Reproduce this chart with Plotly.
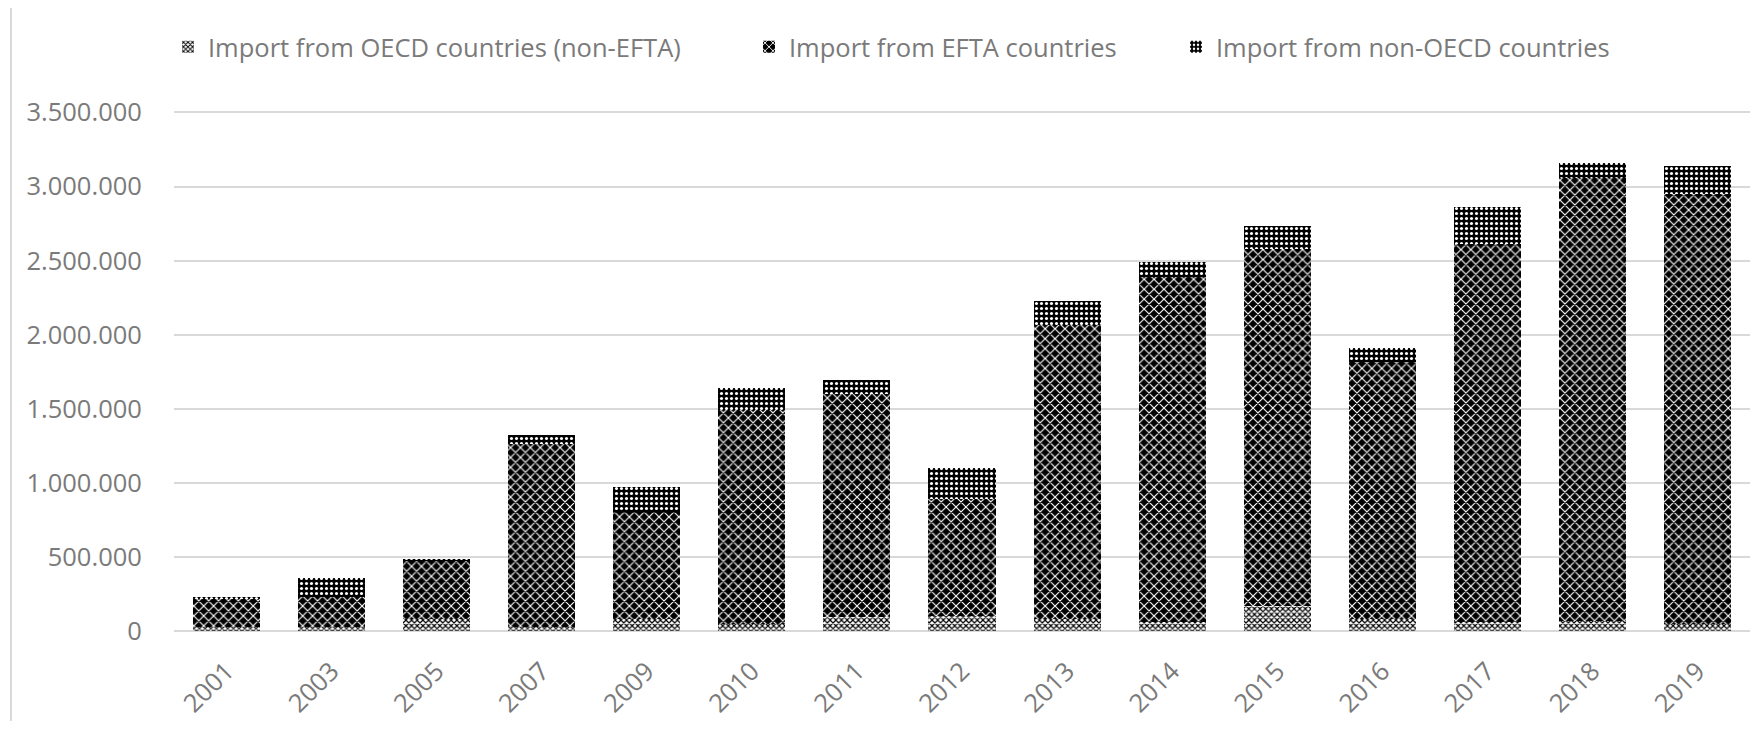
import plotly.graph_objects as go

years = ["2001", "2003", "2005", "2007", "2009", "2010", "2011", "2012",
         "2013", "2014", "2015", "2016", "2017", "2018", "2019"]
oecd_non_efta = [30000, 25000, 80000, 25000, 80000, 47000, 94000, 100000,
                 80000, 58000, 170000, 80000, 58000, 70000, 47000]
efta = [192000, 207000, 393000, 1237000, 723000, 1444000, 1505000, 790000,
        1985000, 2331000, 2409000, 1734000, 2555000, 2990000, 2902000]
non_oecd = [10000, 128000, 16000, 63000, 170000, 152000, 94000, 208000,
            165000, 105000, 155000, 94000, 251000, 101000, 187000]
y_ticks = [0, 500000, 1000000, 1500000, 2000000, 2500000, 3000000, 3500000]

names = ["Import from OECD countries (non-EFTA)",
         "Import from EFTA countries",
         "Import from non-OECD countries"]

# the page body adds an 8px margin, so the figure is sized/placed to compensate
OFF = 8
W, H = 1760 - 2 * OFF, 729 - 2 * OFF
L, R, T, B = 166, 2, 103, 88
pw = W - L - R
ph = H - T - B

TXT = "#7a7a7a"
FONT = "Open Sans"
FS = 25.5

fig = go.Figure()
fig.add_trace(go.Bar(
    x=years, y=oecd_non_efta, name=names[0], legend="legend",
    marker=dict(color="white", line=dict(width=0),
                pattern=dict(shape="x", fgcolor="black", bgcolor="white",
                             size=4, solidity=0.5, fillmode="replace")),
))
fig.add_trace(go.Bar(
    x=years, y=efta, name=names[1], legend="legend2",
    marker=dict(color="black", line=dict(width=0),
                pattern=dict(shape="x", fgcolor="white", bgcolor="black",
                             size=7, solidity=0.3, fillmode="replace")),
))
fig.add_trace(go.Bar(
    x=years, y=non_oecd, name=names[2], legend="legend3",
    marker=dict(color="black", line=dict(width=0),
                pattern=dict(shape=".", fgcolor="white", bgcolor="black",
                             size=5, solidity=0.3, fillmode="replace")),
))

def px_x(px):
    return (px - L) / pw

def px_y(py):
    return (H - B - py) / ph

leg_common = dict(orientation="h", yanchor="middle", xanchor="left",
                  bgcolor="rgba(0,0,0,0)", font=dict(family=FONT, size=FS, color=TXT))

fig.update_layout(
    width=W, height=H,
    margin=dict(l=L, r=R, t=T, b=B, pad=0),
    paper_bgcolor="white", plot_bgcolor="white",
    barmode="stack", bargap=0.362,
    separators=",.",
    showlegend=True,
    font=dict(family=FONT, size=FS, color=TXT),
    legend=dict(x=px_x(160), y=px_y(39), **leg_common),
    legend2=dict(x=px_x(741), y=px_y(39), **leg_common),
    legend3=dict(x=px_x(1168), y=px_y(39), **leg_common),
    xaxis=dict(type="category", tickangle=-45, showgrid=False, zeroline=False,
               showline=False, ticks="outside", ticklen=14, tickcolor="rgba(0,0,0,0)",
               tickfont=dict(family=FONT, size=FS, color=TXT)),
    yaxis=dict(range=[0, 3510000], tickvals=y_ticks, tickformat=",d",
               showgrid=True, gridcolor="#d9d9d9", gridwidth=2,
               zeroline=True, zerolinecolor="#d9d9d9", zerolinewidth=2,
               showline=False, ticks="outside", ticklen=26, tickcolor="rgba(0,0,0,0)",
               tickfont=dict(family=FONT, size=FS, color=TXT)),
    shapes=[dict(type="line", xref="paper", yref="paper",
                 x0=px_x(3), x1=px_x(3), y0=-0.5, y1=1.5,
                 line=dict(color="#d9d9d9", width=2))],
)

fig.write_html("out.html")
